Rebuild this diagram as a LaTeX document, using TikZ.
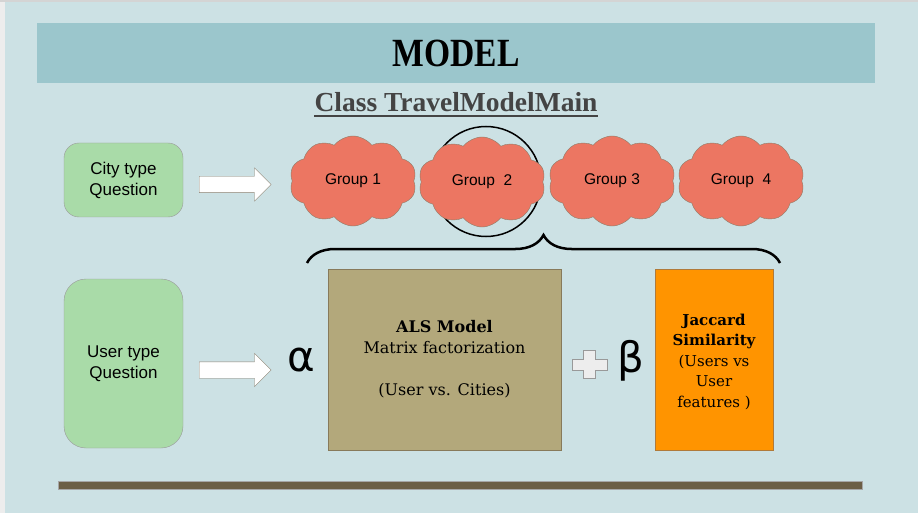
\documentclass[tikz,border=0pt]{standalone}
\usepackage{fontspec}
\usetikzlibrary{shapes.symbols,shapes.arrows,decorations.pathreplacing}
\newfontfamily\serfont{Liberation Serif}
\newfontfamily\boxfont{DejaVu Serif}
\newfontfamily\sansfont{Liberation Sans}
\newfontfamily\greekfont{DejaVu Sans}
\definecolor{bg}{HTML}{CCE1E4}
\definecolor{header}{HTML}{9BC6CC}
\definecolor{qgreen}{HTML}{A9DBA8}
\definecolor{qborder}{HTML}{9A9A9A}
\definecolor{cloudfill}{HTML}{EC7662}
\definecolor{cloudborder}{HTML}{8C7C68}
\definecolor{alsfill}{HTML}{B3A87B}
\definecolor{alsborder}{HTML}{877A5B}
\definecolor{orangefill}{HTML}{FF9400}
\definecolor{orangeborder}{HTML}{B07A3A}
\definecolor{barcol}{HTML}{6B5E45}
\definecolor{subtitle}{HTML}{444444}
\definecolor{arrowborder}{HTML}{8A8070}
\begin{document}
\begin{tikzpicture}[x=1pt,y=-1pt,
  qbox/.style={draw=qborder, fill=qgreen, minimum width=119pt, align=center,
    font=\sansfont\fontsize{17}{21}\selectfont, inner sep=0pt},
  grp/.style={cloud, cloud puffs=10, cloud puff arc=105, aspect=1.45, draw=cloudborder,
    fill=cloudfill, minimum width=127pt, minimum height=90pt, inner sep=0pt,
    font=\sansfont\fontsize{15.5}{18}\selectfont},
  bigarrow/.style={single arrow, draw=arrowborder, fill=white, minimum height=72pt,
    single arrow head extend=8.5pt, inner xsep=0pt, inner ysep=8pt, anchor=west},
  modelbox/.style={minimum height=181pt, align=center, inner sep=0pt},
  greek/.style={font=\greekfont\fontsize{42}{42}\selectfont, inner sep=0pt}
]
\useasboundingbox (0,0) rectangle (918,513);
\fill[bg] (0,0) rectangle (918,513);
\fill[black!7] (0,0) rectangle (5,513);
\fill[black!17] (0,0) rectangle (918,2);

% header
\fill[header] (37,23) rectangle (875,83);
\node (title) at (456,53.5) {\scalebox{0.84}[1]{\serfont\bfseries\fontsize{40}{40}\selectfont MODEL}};
\node[anchor=base, inner sep=0pt, text=subtitle] (cls) at (456,112)
  {\serfont\bfseries\fontsize{27.5}{27.5}\selectfont Class TravelModelMain};
\draw[subtitle, line width=2pt] ([yshift=-4.5pt]cls.base west) -- ([yshift=-4.5pt]cls.base east);

% question boxes
\node[qbox, rounded corners=15pt, minimum height=74pt] (city) at (123.5,180) {City type\\Question};
\node[qbox, rounded corners=22pt, minimum height=169pt] (user) at (123.5,363.5) {User type\\Question};

% block arrows
\node[bigarrow] (arr1) at (199,184.5) {};
\node[bigarrow] (arr2) at (199,370) {};

% circle behind group 2
\node[draw=black, line width=1.5pt, circle, minimum size=110pt, inner sep=0pt] (ring) at (486,181.5) {};

% clouds
\node[grp] (g1) at (353,181) {Group 1};
\node[grp] (g2) at (482,182) {Group\ \ 2};
\node[grp] (g3) at (612,181) {Group 3};
\node[grp] (g4) at (741,181) {Group\ \ 4};

% brace
\coordinate (bl) at (307,263);
\coordinate (br) at (780,263);
\draw[decorate, decoration={brace, amplitude=28pt}, line width=2.5pt] (bl) -- (br);

% alpha
\node[greek] (alpha) at (301,360) {α};

% ALS box
\node[modelbox, draw=alsborder, fill=alsfill, minimum width=233pt,
  font=\boxfont\fontsize{16}{21}\selectfont] (als) at (444.5,359.5)
  {{\bfseries ALS Model}\\Matrix factorization\\[21pt](User vs. Cities)};

% plus sign
\draw[draw=black!40, fill=black!7]
  (583,350) -- (595,350) -- (595,359) -- (607,359) -- (607,370) -- (595,370) -- (595,378)
  -- (583,378) -- (583,370) -- (572,370) -- (572,359) -- (583,359) -- cycle;

% beta
\node[greek] (beta) at (631,361) {β};

% Jaccard box
\node[modelbox, draw=orangeborder, fill=orangefill, minimum width=118pt] (jac) at (714,359.5) {};
\node[align=center, inner sep=0pt, font=\boxfont\fontsize{15}{20.5}\selectfont] (jactext) at (714,361.5)
  {{\bfseries Jaccard}\\{\bfseries Similarity}\\(Users vs\\User\\features )};

% bottom bar
\draw[fill=barcol, draw=black!35, line width=0.6pt] (58,481) rectangle (862,489);
\end{tikzpicture}
\end{document}
